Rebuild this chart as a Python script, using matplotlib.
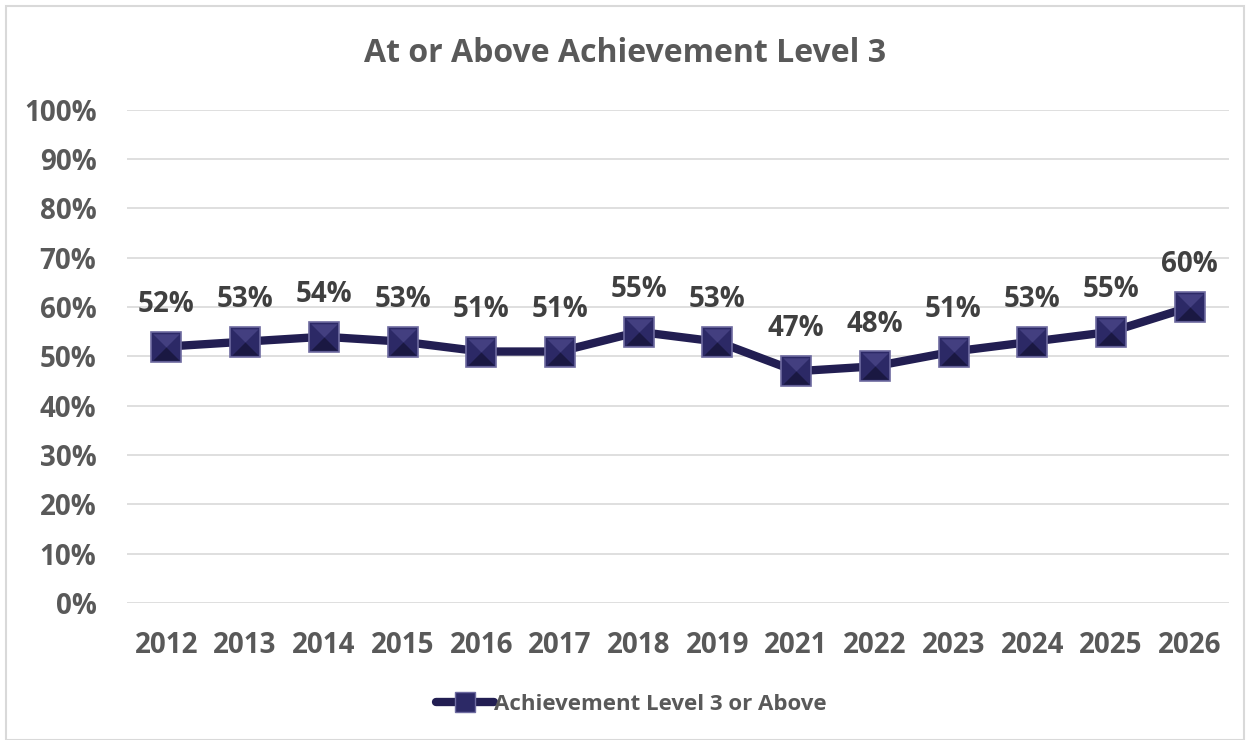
import matplotlib.pyplot as plt
from matplotlib.patches import Rectangle
from matplotlib.lines import Line2D

years = ["2012", "2013", "2014", "2015", "2016", "2017", "2018",
         "2019", "2021", "2022", "2023", "2024", "2025", "2026"]
values = [52, 53, 54, 53, 51, 51, 55, 53, 47, 48, 51, 53, 55, 60]
yticks = [0, 10, 20, 30, 40, 50, 60, 70, 80, 90, 100]

navy = "#221E52"
gray = "#595959"
plt.rcParams['font.family'] = ['Open Sans', 'DejaVu Sans']

# bevelled square marker pieces
top_tri = [(-1, 1), (1, 1), (0, 0), (-1, 1)]
bot_tri = [(-1, -1), (1, -1), (0, 0), (-1, -1)]

fig = plt.figure(figsize=(12.5, 7.4), dpi=100)
ax = fig.add_axes([0.1016, 0.185, 0.8816, 0.6666])

x = list(range(len(years)))
ax.plot(x, values, color=navy, linewidth=6, solid_capstyle='round', zorder=3)
ax.plot(x, values, linestyle='none', marker='s', markersize=21,
        markerfacecolor="#2C2966", markeredgecolor="#6E6BA0",
        markeredgewidth=1.2, zorder=4)
ax.plot(x, values, linestyle='none', marker=top_tri, markersize=19,
        markerfacecolor="#433F80", markeredgewidth=0, zorder=5)
ax.plot(x, values, linestyle='none', marker=bot_tri, markersize=19,
        markerfacecolor="#1A1842", markeredgewidth=0, zorder=5)

for xi, v in zip(x, values):
    ax.annotate(f"{v}%", (xi, v), xytext=(0, 20), textcoords='offset points',
                ha='center', va='bottom', fontsize=20, fontweight='bold',
                color="#404040")

ax.set_xlim(-0.5, len(years) - 0.5)
ax.set_ylim(0, 100)
ax.set_yticks(yticks)
ax.set_yticklabels([f"{t}%" for t in yticks])
ax.set_xticks(x)
ax.set_xticklabels(years)
ax.tick_params(axis='both', length=0, labelsize=20, labelcolor=gray)
ax.tick_params(axis='x', pad=20)
ax.tick_params(axis='y', pad=22)
for lab in ax.get_xticklabels() + ax.get_yticklabels():
    lab.set_fontweight('bold')
ax.grid(axis='y', color="#D9D9D9", linewidth=1.2)
ax.set_axisbelow(True)
for s in ax.spines.values():
    s.set_visible(False)

fig.text(0.5, 0.928, "At or Above Achievement Level 3", ha='center', va='center',
         fontsize=23, fontweight='bold', color=gray)

handle = Line2D([], [], color=navy, linewidth=6, marker='s', markersize=14,
                markerfacecolor="#2C2966", markeredgecolor="#6E6BA0",
                solid_capstyle='round')
fig.legend([handle], ["Achievement Level 3 or Above"], loc='center',
           bbox_to_anchor=(0.505, 0.048), frameon=False, handlelength=2.6,
           handletextpad=0.0, prop={'weight': 'bold', 'size': 16},
           labelcolor=gray)

fig.patches.append(Rectangle((0.005, 0.0), 0.99, 0.992, transform=fig.transFigure,
                             fill=False, edgecolor="#D9D9D9", linewidth=1.5))

fig.savefig("out.png", dpi=100)
